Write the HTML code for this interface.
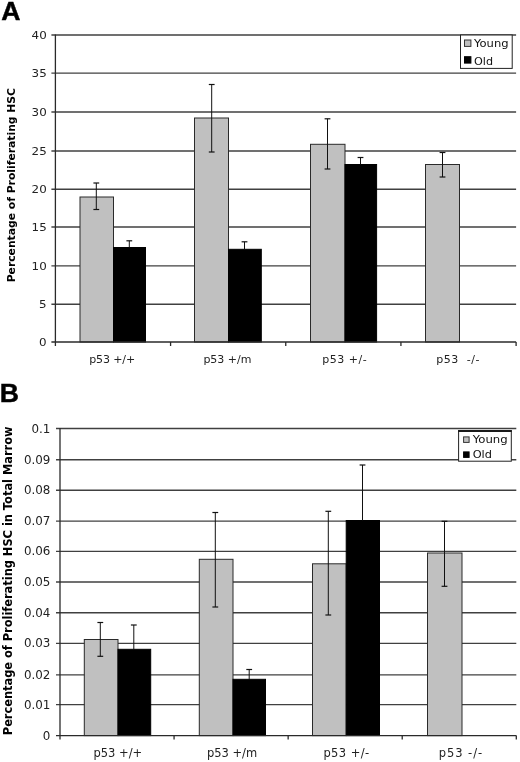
<!DOCTYPE html>
<html lang="en">
<head>
<meta charset="utf-8">
<title>Figure</title>
<style>
html,body{margin:0;padding:0;background:#fff;}
body{width:520px;height:762px;overflow:hidden;}
svg{display:block;}
.gl{stroke:#404040;stroke-width:1.35;}
.ax{stroke:#2a2a2a;stroke-width:1.3;}
.eb{stroke:#111;stroke-width:1;}
.ec{stroke:#111;stroke-width:1.2;}
.t{font-family:"DejaVu Sans", "Liberation Sans", sans-serif;fill:#222;}
.lt{font-family:"DejaVu Sans", "Liberation Sans", sans-serif;fill:#111;}
.yt{font-family:"DejaVu Sans", "Liberation Sans", sans-serif;font-weight:bold;fill:#000;}
.pl{font-family:"Liberation Sans",sans-serif;font-size:26.6px;font-weight:bold;fill:#000;stroke:#000;stroke-width:0.45;}
</style>
</head>
<body>
<svg width="520" height="762" viewBox="0 0 520 762">
<rect x="0" y="0" width="520" height="762" fill="#fff"/>
<g id="chartA" style="font-size:11px">
<line x1="51.4" y1="35.00" x2="516.1" y2="35.00" class="gl"/>
<text x="31.59" y="38.91" class="t" textLength="15.11" lengthAdjust="spacingAndGlyphs">40</text>
<line x1="51.4" y1="73.10" x2="516.1" y2="73.10" class="gl"/>
<text x="31.59" y="77.00" class="t" textLength="15.11" lengthAdjust="spacingAndGlyphs">35</text>
<line x1="51.4" y1="112.00" x2="516.1" y2="112.00" class="gl"/>
<text x="31.59" y="115.91" class="t" textLength="15.11" lengthAdjust="spacingAndGlyphs">30</text>
<line x1="51.4" y1="151.00" x2="516.1" y2="151.00" class="gl"/>
<text x="31.59" y="154.91" class="t" textLength="15.11" lengthAdjust="spacingAndGlyphs">25</text>
<line x1="51.4" y1="189.20" x2="516.1" y2="189.20" class="gl"/>
<text x="31.59" y="193.10" class="t" textLength="15.11" lengthAdjust="spacingAndGlyphs">20</text>
<line x1="51.4" y1="227.00" x2="516.1" y2="227.00" class="gl"/>
<text x="31.59" y="230.91" class="t" textLength="15.11" lengthAdjust="spacingAndGlyphs">15</text>
<line x1="51.4" y1="265.90" x2="516.1" y2="265.90" class="gl"/>
<text x="31.59" y="269.80" class="t" textLength="15.11" lengthAdjust="spacingAndGlyphs">10</text>
<line x1="51.4" y1="304.20" x2="516.1" y2="304.20" class="gl"/>
<text x="39.14" y="308.10" class="t" textLength="7.56" lengthAdjust="spacingAndGlyphs">5</text>
<text x="39.14" y="345.90" class="t" textLength="7.56" lengthAdjust="spacingAndGlyphs">0</text>
<rect x="80" y="197" width="33.50" height="145.00" fill="#c0c0c0" stroke="#2a2a2a" stroke-width="1"/>
<rect x="113.5" y="247.5" width="32.00" height="94.50" fill="#000" stroke="#000" stroke-width="1"/>
<rect x="194.5" y="118" width="34.00" height="224.00" fill="#c0c0c0" stroke="#2a2a2a" stroke-width="1"/>
<rect x="228.5" y="249.3" width="32.80" height="92.70" fill="#000" stroke="#000" stroke-width="1"/>
<rect x="310.5" y="144.3" width="34.50" height="197.70" fill="#c0c0c0" stroke="#2a2a2a" stroke-width="1"/>
<rect x="345" y="164.5" width="31.60" height="177.50" fill="#000" stroke="#000" stroke-width="1"/>
<rect x="425.5" y="164.5" width="34.00" height="177.50" fill="#c0c0c0" stroke="#2a2a2a" stroke-width="1"/>
<line x1="55.4" y1="34.5" x2="55.4" y2="346" class="ax"/>
<line x1="51.4" y1="342" x2="516.1" y2="342" class="ax"/>
<line x1="170.58" y1="342" x2="170.58" y2="346" class="ax"/>
<line x1="285.75" y1="342" x2="285.75" y2="346" class="ax"/>
<line x1="400.93" y1="342" x2="400.93" y2="346" class="ax"/>
<line x1="516.10" y1="342" x2="516.10" y2="346" class="ax"/>
<line x1="96.3" y1="183" x2="96.3" y2="209.5" class="eb"/>
<line x1="93.39999999999999" y1="183" x2="99.2" y2="183" class="ec"/>
<line x1="93.39999999999999" y1="209.5" x2="99.2" y2="209.5" class="ec"/>
<line x1="129.3" y1="240.8" x2="129.3" y2="247.5" class="eb"/>
<line x1="126.4" y1="240.8" x2="132.20000000000002" y2="240.8" class="ec"/>
<line x1="211.7" y1="84.5" x2="211.7" y2="152" class="eb"/>
<line x1="208.79999999999998" y1="84.5" x2="214.6" y2="84.5" class="ec"/>
<line x1="208.79999999999998" y1="152" x2="214.6" y2="152" class="ec"/>
<line x1="244.5" y1="241.8" x2="244.5" y2="249.3" class="eb"/>
<line x1="241.6" y1="241.8" x2="247.4" y2="241.8" class="ec"/>
<line x1="327.5" y1="118.8" x2="327.5" y2="169" class="eb"/>
<line x1="324.6" y1="118.8" x2="330.4" y2="118.8" class="ec"/>
<line x1="324.6" y1="169" x2="330.4" y2="169" class="ec"/>
<line x1="360.5" y1="157.5" x2="360.5" y2="164.5" class="eb"/>
<line x1="357.6" y1="157.5" x2="363.4" y2="157.5" class="ec"/>
<line x1="442.5" y1="152.5" x2="442.5" y2="177" class="eb"/>
<line x1="439.6" y1="152.5" x2="445.4" y2="152.5" class="ec"/>
<line x1="439.6" y1="177" x2="445.4" y2="177" class="ec"/>
<text x="89.2" y="362.5" class="t" textLength="46" lengthAdjust="spacing" xml:space="preserve">p53 +/+</text>
<text x="203.4" y="362.5" class="t" textLength="48" lengthAdjust="spacing" xml:space="preserve">p53 +/m</text>
<text x="322.2" y="362.5" class="t" textLength="44.5" lengthAdjust="spacing" xml:space="preserve">p53 +/-</text>
<text x="436.2" y="362.5" class="t" textLength="43.2" lengthAdjust="spacing" xml:space="preserve">p53  -/-</text>
<rect x="460.5" y="35" width="51.7" height="33.4" fill="#fff" stroke="#222" stroke-width="1"/>
<rect x="464.5" y="40" width="6.4" height="6.4" fill="#c0c0c0" stroke="#333" stroke-width="1"/>
<rect x="464.5" y="56.7" width="6.4" height="6.4" fill="#000" stroke="#000" stroke-width="1"/>
<text x="474" y="47.3" class="lt" font-size="11" textLength="34.6" lengthAdjust="spacingAndGlyphs">Young</text>
<text x="474" y="64.7" class="lt" font-size="11" textLength="19" lengthAdjust="spacingAndGlyphs">Old</text>
<text transform="translate(15.4,282.3) rotate(-90)" class="yt" textLength="194.3" lengthAdjust="spacingAndGlyphs">Percentage of Proliferating HSC</text>
<text x="1.3" y="19.8" class="pl">A</text>
</g>
<g id="chartB" style="font-size:11.5px">
<line x1="56" y1="428.50" x2="516.3" y2="428.50" class="gl"/>
<text x="31.48" y="432.58" class="t" textLength="18.92" lengthAdjust="spacingAndGlyphs">0.1</text>
<line x1="56" y1="459.70" x2="516.3" y2="459.70" class="gl"/>
<text x="23.91" y="463.78" class="t" textLength="26.49" lengthAdjust="spacingAndGlyphs">0.09</text>
<line x1="56" y1="490.20" x2="516.3" y2="490.20" class="gl"/>
<text x="23.91" y="494.28" class="t" textLength="26.49" lengthAdjust="spacingAndGlyphs">0.08</text>
<line x1="56" y1="521.10" x2="516.3" y2="521.10" class="gl"/>
<text x="23.91" y="525.18" class="t" textLength="26.49" lengthAdjust="spacingAndGlyphs">0.07</text>
<line x1="56" y1="551.40" x2="516.3" y2="551.40" class="gl"/>
<text x="23.91" y="555.48" class="t" textLength="26.49" lengthAdjust="spacingAndGlyphs">0.06</text>
<line x1="56" y1="582.00" x2="516.3" y2="582.00" class="gl"/>
<text x="23.91" y="586.08" class="t" textLength="26.49" lengthAdjust="spacingAndGlyphs">0.05</text>
<line x1="56" y1="612.70" x2="516.3" y2="612.70" class="gl"/>
<text x="23.91" y="616.78" class="t" textLength="26.49" lengthAdjust="spacingAndGlyphs">0.04</text>
<line x1="56" y1="643.30" x2="516.3" y2="643.30" class="gl"/>
<text x="23.91" y="647.38" class="t" textLength="26.49" lengthAdjust="spacingAndGlyphs">0.03</text>
<line x1="56" y1="674.80" x2="516.3" y2="674.80" class="gl"/>
<text x="23.91" y="678.88" class="t" textLength="26.49" lengthAdjust="spacingAndGlyphs">0.02</text>
<line x1="56" y1="704.60" x2="516.3" y2="704.60" class="gl"/>
<text x="23.91" y="708.68" class="t" textLength="26.49" lengthAdjust="spacingAndGlyphs">0.01</text>
<text x="42.83" y="739.68" class="t" textLength="7.57" lengthAdjust="spacingAndGlyphs">0</text>
<rect x="84.3" y="639.5" width="33.70" height="96.10" fill="#c0c0c0" stroke="#2a2a2a" stroke-width="1"/>
<rect x="118" y="649.3" width="32.70" height="86.30" fill="#000" stroke="#000" stroke-width="1"/>
<rect x="199.3" y="559.3" width="33.70" height="176.30" fill="#c0c0c0" stroke="#2a2a2a" stroke-width="1"/>
<rect x="233" y="679.3" width="32.50" height="56.30" fill="#000" stroke="#000" stroke-width="1"/>
<rect x="312.5" y="563.8" width="33.70" height="171.80" fill="#c0c0c0" stroke="#2a2a2a" stroke-width="1"/>
<rect x="346.2" y="520.5" width="33.30" height="215.10" fill="#000" stroke="#000" stroke-width="1"/>
<rect x="427.5" y="553" width="34.50" height="182.60" fill="#c0c0c0" stroke="#2a2a2a" stroke-width="1"/>
<line x1="60" y1="428.0" x2="60" y2="739.6" class="ax"/>
<line x1="56" y1="735.6" x2="516.3" y2="735.6" class="ax"/>
<line x1="174.07" y1="735.6" x2="174.07" y2="739.6" class="ax"/>
<line x1="288.15" y1="735.6" x2="288.15" y2="739.6" class="ax"/>
<line x1="402.22" y1="735.6" x2="402.22" y2="739.6" class="ax"/>
<line x1="516.30" y1="735.6" x2="516.30" y2="739.6" class="ax"/>
<line x1="100.3" y1="622.5" x2="100.3" y2="656.3" class="eb"/>
<line x1="97.39999999999999" y1="622.5" x2="103.2" y2="622.5" class="ec"/>
<line x1="97.39999999999999" y1="656.3" x2="103.2" y2="656.3" class="ec"/>
<line x1="133.8" y1="625" x2="133.8" y2="649.3" class="eb"/>
<line x1="130.9" y1="625" x2="136.70000000000002" y2="625" class="ec"/>
<line x1="215.3" y1="512.5" x2="215.3" y2="607" class="eb"/>
<line x1="212.4" y1="512.5" x2="218.20000000000002" y2="512.5" class="ec"/>
<line x1="212.4" y1="607" x2="218.20000000000002" y2="607" class="ec"/>
<line x1="249.2" y1="669.5" x2="249.2" y2="679.3" class="eb"/>
<line x1="246.29999999999998" y1="669.5" x2="252.1" y2="669.5" class="ec"/>
<line x1="328.3" y1="511.3" x2="328.3" y2="615" class="eb"/>
<line x1="325.40000000000003" y1="511.3" x2="331.2" y2="511.3" class="ec"/>
<line x1="325.40000000000003" y1="615" x2="331.2" y2="615" class="ec"/>
<line x1="362.5" y1="465" x2="362.5" y2="520.5" class="eb"/>
<line x1="359.6" y1="465" x2="365.4" y2="465" class="ec"/>
<line x1="444.5" y1="521.3" x2="444.5" y2="586.3" class="eb"/>
<line x1="441.6" y1="521.3" x2="447.4" y2="521.3" class="ec"/>
<line x1="441.6" y1="586.3" x2="447.4" y2="586.3" class="ec"/>
<text x="93.4" y="756.6" class="t" textLength="48.8" lengthAdjust="spacing" xml:space="preserve">p53 +/+</text>
<text x="206.9" y="756.6" class="t" textLength="50.2" lengthAdjust="spacing" xml:space="preserve">p53 +/m</text>
<text x="323.4" y="756.6" class="t" textLength="45.7" lengthAdjust="spacing" xml:space="preserve">p53 +/-</text>
<text x="438.8" y="756.6" class="t" textLength="43.3" lengthAdjust="spacing" xml:space="preserve">p53 -/-</text>
<rect x="458.6" y="430.7" width="52.7" height="30.5" fill="#fff" stroke="#222" stroke-width="1"/>
<line x1="458.1" y1="431.0" x2="511.8" y2="431.0" stroke="#1a1a1a" stroke-width="1.8"/>
<rect x="463.6" y="436.9" width="5.5" height="5.5" fill="#c0c0c0" stroke="#333" stroke-width="1"/>
<rect x="463.6" y="451.9" width="5.5" height="5.5" fill="#000" stroke="#000" stroke-width="1"/>
<text x="472.7" y="443" class="lt" font-size="10" textLength="35" lengthAdjust="spacingAndGlyphs">Young</text>
<text x="472.7" y="458" class="lt" font-size="10" textLength="19.3" lengthAdjust="spacingAndGlyphs">Old</text>
<text transform="translate(11.8,735.2) rotate(-90)" class="yt" textLength="308.7" lengthAdjust="spacingAndGlyphs">Percentage of Proliferating HSC in Total Marrow</text>
<text x="-0.3" y="401.6" class="pl">B</text>
</g>
</svg>
</body>
</html>
